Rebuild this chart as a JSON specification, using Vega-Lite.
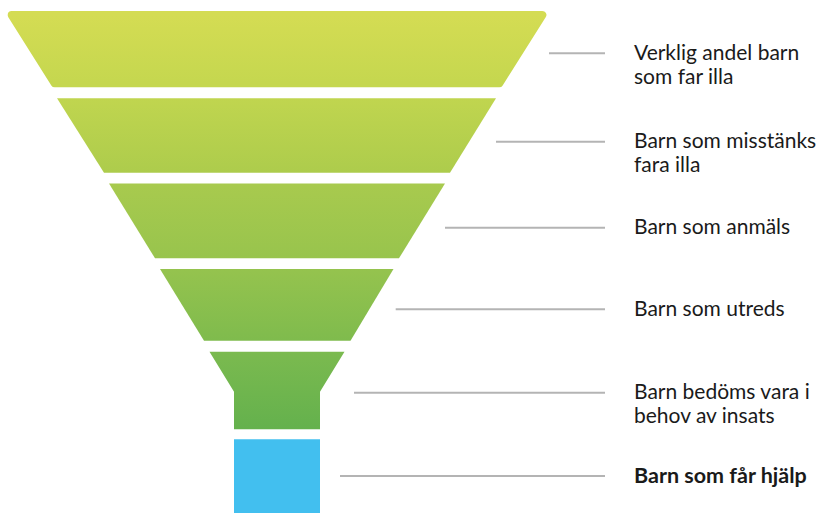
{
  "$schema": "https://vega.github.io/schema/vega-lite/v6.json",
  "width": 817,
  "height": 513,
  "autosize": {"type": "fit", "contains": "padding"},
  "padding": 0,
  "background": "#ffffff",
  "config": {"view": {"stroke": null}},
  "datasets": {
    "funnel": [
      {"seg": 1, "y": 15, "xl": 11.7, "xr": 542.3},
      {"seg": 1, "y": 83.3, "xl": 54.7, "xr": 499.3},
      {"seg": 2, "y": 98.3, "xl": 57, "xr": 496},
      {"seg": 2, "y": 172.7, "xl": 104, "xr": 450},
      {"seg": 3, "y": 183.5, "xl": 109, "xr": 445},
      {"seg": 3, "y": 258.3, "xl": 155, "xr": 399},
      {"seg": 4, "y": 269, "xl": 160, "xr": 393.5},
      {"seg": 4, "y": 340.7, "xl": 204, "xr": 350.5},
      {"seg": 5, "y": 351.7, "xl": 209.5, "xr": 344.5},
      {"seg": 5, "y": 391.7, "xl": 234, "xr": 320},
      {"seg": 5, "y": 429.3, "xl": 234, "xr": 320}
    ],
    "help": [
      {"xl": 234, "xr": 320, "yt": 439.3, "yb": 513}
    ],
    "rules": [
      {"y": 53.3, "x1": 549, "x2": 605},
      {"y": 141.7, "x1": 496, "x2": 605},
      {"y": 227.7, "x1": 445, "x2": 605},
      {"y": 309.3, "x1": 395.7, "x2": 605},
      {"y": 392.7, "x1": 354, "x2": 605},
      {"y": 476, "x1": 340, "x2": 605}
    ],
    "labels": [
      {"y": 53.3, "x": 634, "label": "Verklig andel barn\nsom far illa", "bold": false},
      {"y": 141.7, "x": 634, "label": "Barn som misstänks\nfara illa", "bold": false},
      {"y": 227.7, "x": 634, "label": "Barn som anmäls", "bold": false},
      {"y": 309.3, "x": 634, "label": "Barn som utreds", "bold": false},
      {"y": 392.7, "x": 634, "label": "Barn bedöms vara i\nbehov av insats", "bold": false},
      {"y": 476, "x": 634, "label": "Barn som får hjälp", "bold": true}
    ]
  },
  "layer": [
    {
      "data": {"name": "funnel"},
      "transform": [{"filter": "datum.seg == 1"}],
      "mark": {"type": "area", "orient": "horizontal", "strokeWidth": 8, "strokeJoin": "round",
        "color": {"gradient": "linear", "x1": 0, "y1": 0, "x2": 0, "y2": 1, "stops": [{"offset": 0, "color": "#d4dc53"}, {"offset": 1, "color": "#c5d74f"}]},
        "stroke": {"gradient": "linear", "x1": 0, "y1": 0, "x2": 0, "y2": 1, "stops": [{"offset": 0, "color": "#d4dc53"}, {"offset": 1, "color": "#c5d74f"}]}},
      "encoding": {
        "y": {"field": "y", "type": "quantitative", "scale": {"domain": [0, 513], "reverse": true, "nice": false, "zero": false}, "axis": null},
        "x": {"field": "xl", "type": "quantitative", "scale": {"domain": [0, 817], "nice": false, "zero": false}, "axis": null},
        "x2": {"field": "xr"}
      }
    },
    {
      "data": {"name": "funnel"},
      "transform": [{"filter": "datum.seg == 2"}],
      "mark": {"type": "area", "orient": "horizontal",
        "color": {"gradient": "linear", "x1": 0, "y1": 0, "x2": 0, "y2": 1, "stops": [{"offset": 0, "color": "#c0d54f"}, {"offset": 1, "color": "#adcc4c"}]}},
      "encoding": {
        "y": {"field": "y", "type": "quantitative"},
        "x": {"field": "xl", "type": "quantitative"},
        "x2": {"field": "xr"}
      }
    },
    {
      "data": {"name": "funnel"},
      "transform": [{"filter": "datum.seg == 3"}],
      "mark": {"type": "area", "orient": "horizontal",
        "color": {"gradient": "linear", "x1": 0, "y1": 0, "x2": 0, "y2": 1, "stops": [{"offset": 0, "color": "#a8ca4e"}, {"offset": 1, "color": "#98c44d"}]}},
      "encoding": {
        "y": {"field": "y", "type": "quantitative"},
        "x": {"field": "xl", "type": "quantitative"},
        "x2": {"field": "xr"}
      }
    },
    {
      "data": {"name": "funnel"},
      "transform": [{"filter": "datum.seg == 4"}],
      "mark": {"type": "area", "orient": "horizontal",
        "color": {"gradient": "linear", "x1": 0, "y1": 0, "x2": 0, "y2": 1, "stops": [{"offset": 0, "color": "#95c34e"}, {"offset": 1, "color": "#7fbb4d"}]}},
      "encoding": {
        "y": {"field": "y", "type": "quantitative"},
        "x": {"field": "xl", "type": "quantitative"},
        "x2": {"field": "xr"}
      }
    },
    {
      "data": {"name": "funnel"},
      "transform": [{"filter": "datum.seg == 5"}],
      "mark": {"type": "area", "orient": "horizontal",
        "color": {"gradient": "linear", "x1": 0, "y1": 0, "x2": 0, "y2": 1, "stops": [{"offset": 0, "color": "#7bba4f"}, {"offset": 1, "color": "#64b14d"}]}},
      "encoding": {
        "y": {"field": "y", "type": "quantitative"},
        "x": {"field": "xl", "type": "quantitative"},
        "x2": {"field": "xr"}
      }
    },
    {
      "data": {"name": "help"},
      "mark": {"type": "rect", "color": "#42bfef"},
      "encoding": {
        "y": {"field": "yt", "type": "quantitative"},
        "y2": {"field": "yb"},
        "x": {"field": "xl", "type": "quantitative"},
        "x2": {"field": "xr"}
      }
    },
    {
      "data": {"name": "rules"},
      "mark": {"type": "rule", "color": "#b4b4b4", "strokeWidth": 2},
      "encoding": {
        "y": {"field": "y", "type": "quantitative"},
        "x": {"field": "x1", "type": "quantitative"},
        "x2": {"field": "x2"}
      }
    },
    {
      "data": {"name": "labels"},
      "transform": [{"filter": "!datum.bold"}],
      "mark": {"type": "text", "align": "left", "baseline": "alphabetic", "dy": 6.5, "lineBreak": "\n", "lineHeight": 24, "font": "Lato", "fontSize": 21, "color": "#1a1a1a"},
      "encoding": {
        "y": {"field": "y", "type": "quantitative"},
        "x": {"field": "x", "type": "quantitative"},
        "text": {"field": "label"}
      }
    },
    {
      "data": {"name": "labels"},
      "transform": [{"filter": "datum.bold"}],
      "mark": {"type": "text", "align": "left", "baseline": "alphabetic", "dy": 6.5, "font": "Lato", "fontSize": 21.5, "fontWeight": "bold", "color": "#1a1a1a"},
      "encoding": {
        "y": {"field": "y", "type": "quantitative"},
        "x": {"field": "x", "type": "quantitative"},
        "text": {"field": "label"}
      }
    }
  ]
}
